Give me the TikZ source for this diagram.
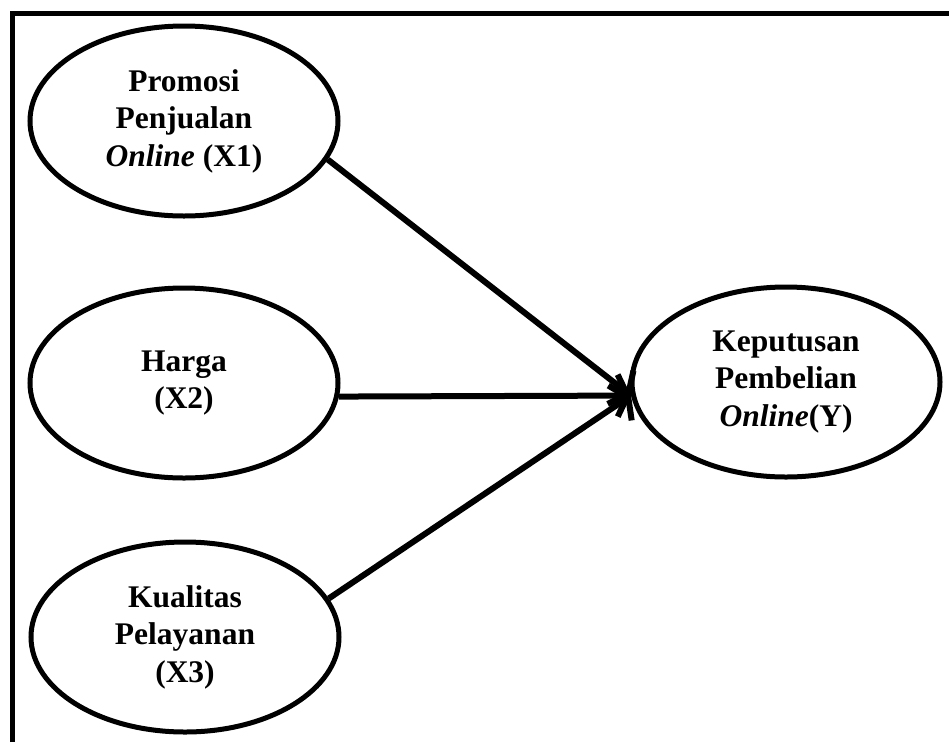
\documentclass[tikz,border=0pt]{standalone}
\usepackage{fontspec}
\setmainfont{Liberation Serif}
\usetikzlibrary{arrows.meta,shapes.geometric}

\begin{document}
\begin{tikzpicture}[x=1pt, y=-1pt,
    varnode/.style={draw, ellipse, line width=5pt, minimum width=308pt,
      minimum height=190pt, inner sep=0pt, align=center,
      font=\bfseries\fontsize{31.5}{37.5}\selectfont},
    link/.style={line width=6pt, -{Straight Barb[length=10pt, width=42pt]}}]
    \useasboundingbox (0,0) rectangle (949,742);
    \draw[line width=5pt] (12,742) |- (949,13);

    \node[varnode] (X1) at (184,121) {Promosi\\Penjualan\\\textit{Online} (X1)};
    \node[varnode] (X2) at (184,383) {Harga\\(X2)};
    \node[varnode] (X3) at (185,637) {Kualitas\\Pelayanan\\(X3)};
    \node[varnode] (Y) at (786,382) {Keputusan\\Pembelian\\\textit{Online}(Y)};

    \draw[link] (X1.-15) -- (Y.185);
    \draw[link] (X2.-5) -- (Y.185);
    \draw[link] (X3.15) -- (Y.185);
  \end{tikzpicture}
\end{document}
